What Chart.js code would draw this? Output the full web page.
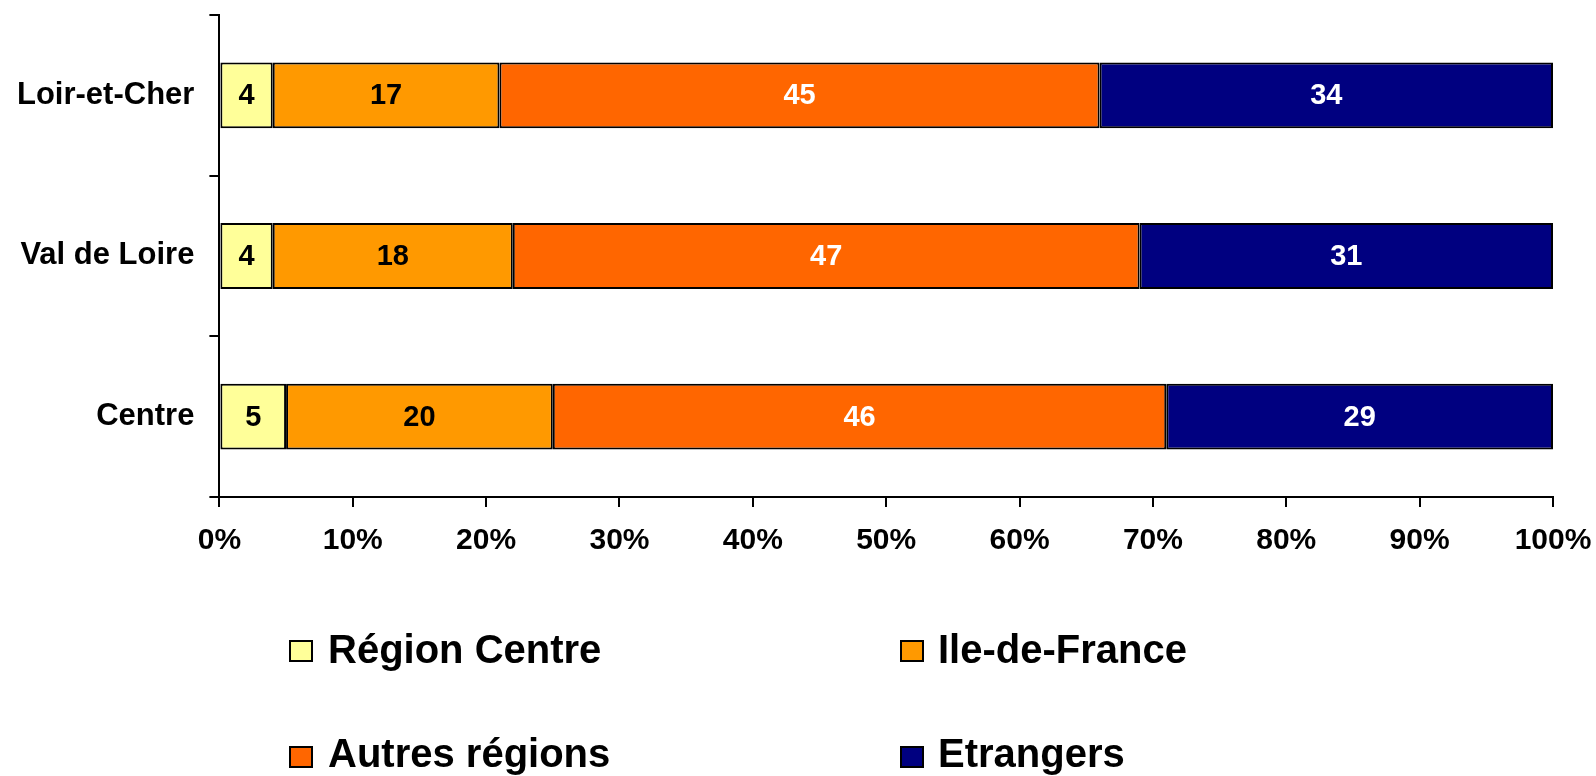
<!DOCTYPE html>
<html lang="fr">
<head>
<meta charset="utf-8">
<title>Origine des visiteurs</title>
<script src="https://cdn.jsdelivr.net/npm/chart.js@4.4.1/dist/chart.umd.min.js"></script>
<style>
  body { margin: 0; background: #fff; }
  #wrap { position: relative; width: 1596px; height: 776px; overflow: hidden; }
  #chart { position: absolute; left: 0; top: 0; }
  .leg-box { position: absolute; width: 24px; height: 22px; border: 2px solid #000; box-sizing: border-box; }
  .leg-text { position: absolute; font: bold 40px "Liberation Sans", Arial, sans-serif; line-height: 40px; color: #000; white-space: nowrap; }
</style>
</head>
<body>
<div id="wrap">
  <canvas id="chart" width="1596" height="776"></canvas>
  <div id="legend"></div>
</div>
<script>
// Data (percentages per zone)
const zones = ["Loir-et-Cher", "Val de Loire", "Centre"];
const seriesNames = ["Région Centre", "Ile-de-France", "Autres régions", "Etrangers"];
const regionCentre = [4, 4, 5];
const ileDeFrance = [17, 18, 20];
const autresRegions = [45, 47, 46];
const etrangers = [34, 31, 29];
const xTicks = [0, 10, 20, 30, 40, 50, 60, 70, 80, 90, 100];

const colors = ["#FFFF99", "#FF9900", "#FF6600", "#000080"];
const labelColors = ["#000", "#000", "#fff", "#fff"];
const FONT = '"Liberation Sans", Arial, sans-serif';

const seriesValues = [regionCentre, ileDeFrance, autresRegions, etrangers];

// Write the value in the middle of each segment
const valueLabels = {
  id: "valueLabels",
  afterDatasetsDraw(chart) {
    const ctx = chart.ctx;
    ctx.save();
    ctx.font = "bold 29px " + FONT;
    ctx.textAlign = "center";
    ctx.textBaseline = "middle";
    chart.data.datasets.forEach((ds, i) => {
      chart.getDatasetMeta(i).data.forEach((bar, j) => {
        const p = bar.getProps(["x", "y", "base"], true);
        ctx.fillStyle = labelColors[i];
        ctx.fillText(ds.data[j], (p.x + p.base) / 2, p.y + 1);
      });
    });
    ctx.restore();
  },
};

new Chart(document.getElementById("chart"), {
  type: "bar",
  data: {
    labels: zones,
    datasets: seriesNames.map((name, i) => ({
      label: name,
      data: seriesValues[i],
      backgroundColor: colors[i],
      borderColor: "#000",
      borderWidth: 2,
      borderSkipped: false,
      barPercentage: 0.41,
      categoryPercentage: 1,
    })),
  },
  options: {
    indexAxis: "y",
    responsive: false,
    animation: false,
    layout: { padding: { left: 2, right: 43, top: 0, bottom: 201 } },
    plugins: { legend: { display: false }, tooltip: { enabled: false } },
    scales: {
      x: {
        stacked: true,
        min: 0,
        max: 100,
        afterBuildTicks: (axis) => { axis.ticks = xTicks.map((v) => ({ value: v })); },
        ticks: {
          callback: (v) => v + "%",
          color: "#000",
          // tall line height pushes the labels down without widening the side padding
          font: { family: FONT, size: 30, weight: "bold", lineHeight: 2.27 },
          padding: 0,
          maxRotation: 0,
        },
        grid: { drawOnChartArea: false, tickLength: 10, color: "#000", lineWidth: 2 },
        border: { color: "#000", width: 2 },
      },
      y: {
        stacked: true,
        ticks: {
          color: "#000",
          font: { family: FONT, size: 31, weight: "bold", lineHeight: 0 },
          padding: 15,
        },
        grid: { drawOnChartArea: false, tickLength: 10, color: "#000", lineWidth: 2, offset: true },
        border: { color: "#000", width: 2 },
      },
    },
  },
  plugins: [valueLabels],
});

// Legend, two columns under the chart
const legend = document.getElementById("legend");
const legPos = [
  { box: [289, 640], text: [328, 629] },
  { box: [900, 640], text: [938, 629] },
  { box: [289, 746], text: [328, 733] },
  { box: [900, 746], text: [938, 733] },
];
seriesNames.forEach((name, i) => {
  const p = legPos[i];
  legend.innerHTML += `<div class="leg-box" style="left:${p.box[0]}px;top:${p.box[1]}px;background:${colors[i]}"></div>
    <div class="leg-text" style="left:${p.text[0]}px;top:${p.text[1]}px">${name}</div>`;
});
</script>
</body>
</html>
